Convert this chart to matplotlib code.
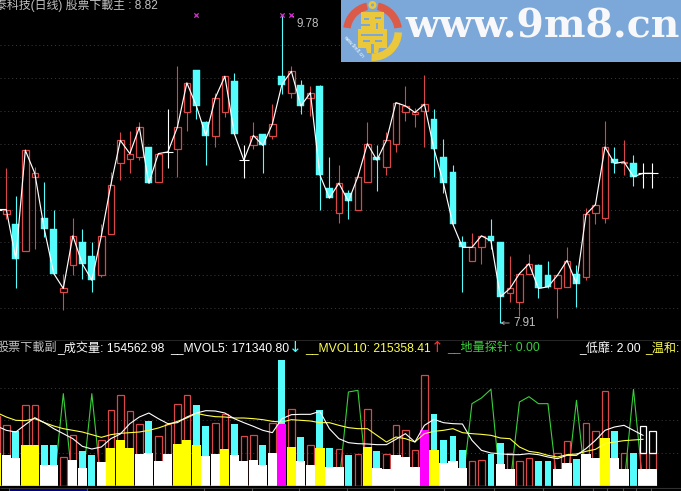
import numpy as np
import matplotlib
matplotlib.use('Agg')
import matplotlib.pyplot as plt
from matplotlib.patches import Rectangle, Wedge, Circle, Polygon

plt.rcParams['font.family'] = ['Liberation Sans', 'Noto Sans CJK SC', 'DejaVu Sans']

# prices
open_p = [8.60,8.57,8.51,8.35,8.80,8.55,8.48,8.10,8.26,8.40,8.32,8.20,8.45,8.88,8.91,8.92,8.98,8.77,8.95,8.97,
          9.19,9.45,9.13,9.05,9.19,9.38,8.90,8.99,9.06,9.05,9.41,9.31,9.36,9.28,9.35,8.73,8.58,8.70,8.60,8.77,
          8.92,8.86,9.00,9.19,9.18,9.20,9.15,8.92,8.83,8.40,8.29,8.37,8.44,8.40,8.09,8.04,8.21,8.26,8.20,8.12,
          8.13,8.21,8.19,8.58,8.55,8.91,8.88,8.88,8.82,8.82]
close_p = [8.60,8.60,8.30,8.96,8.82,8.48,8.21,8.12,8.44,8.27,8.17,8.44,8.75,9.02,8.94,9.10,8.76,8.94,8.95,9.10,
           9.37,9.23,9.05,9.28,9.41,9.06,8.90,9.05,8.99,9.12,9.36,9.44,9.23,9.31,8.81,8.67,8.76,8.65,8.80,9.00,
           8.90,9.02,9.25,9.23,9.19,9.24,8.97,8.76,8.51,8.37,8.37,8.44,8.41,8.07,8.12,8.21,8.27,8.12,8.13,8.20,
           8.29,8.15,8.57,8.63,8.98,8.88,8.89,8.80,8.82,8.82]
high_p = [8.60,8.85,8.68,8.97,8.86,8.77,8.60,8.21,8.55,8.48,8.40,8.51,8.83,9.07,9.08,9.13,8.98,8.94,9.21,9.47,
          9.37,9.45,9.14,9.31,9.41,9.43,8.99,9.13,9.06,9.24,9.78,9.47,9.39,9.35,9.36,8.92,8.87,8.72,8.83,9.13,
          8.99,9.07,9.25,9.35,9.22,9.42,9.21,9.03,8.87,8.44,8.46,8.44,8.54,8.40,8.32,8.21,8.33,8.27,8.29,8.20,
          8.37,8.26,8.61,8.63,9.14,8.98,9.02,8.93,8.88,8.88]
low_p = [8.60,8.54,8.12,8.35,8.36,8.43,8.21,7.99,8.20,8.18,8.10,8.19,8.45,8.78,8.82,8.90,8.76,8.77,8.85,8.80,
         9.08,9.15,8.87,8.98,9.16,9.06,8.79,8.97,8.82,9.03,9.30,9.28,9.18,9.17,8.60,8.67,8.52,8.54,8.60,8.77,
         8.71,8.81,8.95,9.14,9.10,8.98,8.80,8.70,8.51,8.10,8.29,8.27,8.36,7.91,8.04,7.95,8.21,8.06,8.12,7.94,
         8.13,8.01,8.17,8.51,8.52,8.82,8.81,8.74,8.73,8.73]

# volume in thousands
volume = [210,182,164,242,242,122,122,88,154,104,92,139,227,274,224,187,194,149,187,247,
          274,242,179,190,217,185,149,154,122,190,377,232,147,124,227,113,110,92,95,232,
          104,97,182,169,109,332,215,137,149,107,74,79,95,128,100,74,85,74,74,98,
          134,80,190,166,284,164,100,98,99,99]
level = [100,92,84,122,122,62,62,0,77,54,0,72,114,137,114,95,98,74,95,125,
         137,122,89,95,110,92,74,77,62,98,187,116,74,62,113,56,56,0,0,116,
         53,50,92,86,56,167,107,68,74,53,0,0,0,65,50,0,0,0,0,50,
         68,0,95,83,143,83,50,0,50,50]
level_kind = ['mild','low','low','mild','mild','low','low','','low','low','','low','mild','mild','mild','low','low','low','low','mild',
              'mild','mild','low','low','mild','low','low','low','low','low','top','mild','low','low','mild','low','low','','','mild',
              'low','low','low','low','low','top','mild','low','low','low','','','','low','low','','','','','low',
              'low','','low','low','mild','low','low','','low','low']
last_open_vol = [80, 65]

mvol5 = [180,167,162,184,205,190,172,157,142,119,111,117,142,156,187,207,219,202,187,190,
         207,219,226,225,219,202,190,179,167,160,202,214,215,215,224,172,142,130,127,126,
         124,124,140,157,132,182,200,190,187,186,137,107,99,97,94,94,97,94,87,82,
         92,92,112,137,167,177,182,167,152]
mvol10 = [220,207,197,196,202,190,180,172,167,162,154,146,154,158,160,162,167,174,184,194,
          204,218,212,208,207,204,204,202,199,194,192,199,197,195,190,190,182,175,172,172,
          152,132,147,142,132,157,164,167,172,160,157,155,152,144,142,117,104,100,92,87,
          94,96,104,110,127,132,136,138,140]
probe = [0,0,0,0,0,0,0,277,0,0,277,0,0,0,0,0,0,0,0,0,
         0,0,0,0,0,0,0,0,0,0,0,0,0,0,0,0,0,282,287,0,
         0,0,0,0,0,0,0,0,0,0,247,264,290,0,0,252,268,247,247,0,
         0,257,0,0,0,0,0,290,0]

peak_marks = [21, 30, 31]
grid_prices = [8.0,8.2,8.4,8.6,8.8,9.0,9.2,9.4,9.6]
vol_grid = [100, 197, 295]
time_ticks = [9,87,204,252,299,347,394,444,494,543,593,607,623,636,651]

W, H = 681, 491
RED = '#D84848'
CYAN = '#54FCFC'
YEL = '#FFFF00'
MAG = '#FF00FF'
GRAY = '#C0C0C0'
kind_colors = {'low': 'white', 'mild': YEL, 'top': MAG}

fig = plt.figure(figsize=(W / 100, H / 100), dpi=100, facecolor='black')

def panel(top, bottom):
    ax = fig.add_axes([0, 1 - bottom / H, 1, (bottom - top) / H], facecolor='none')
    ax.set_axis_off()
    ax.set_xlim(0.337, 72.0)
    return ax

days = np.arange(len(close_p))

# price panel
ax = panel(0, 335)
ax.set_ylim(7.837, 9.874)
ax.hlines(grid_prices, 0.337, 72, color='#3c3c3c', lw=0.7, linestyles=(0, (1, 3)), zorder=1)
for d, o, c, h, l in zip(days, open_p, close_p, high_p, low_p):
    if d == 0:
        ax.hlines(c, d - 0.5, d + 0.5, color='white', lw=0.8, zorder=3)
    elif o == c:
        ax.vlines(d, l, h, color='white', lw=0.8, zorder=3)
        ax.hlines(c, d - 0.55, d + 0.55, color='white', lw=0.8, zorder=3)
    elif c > o:
        ax.vlines(d, l, h, color=RED, lw=0.8, zorder=3)
        ax.add_patch(Rectangle((d - 0.34, o), 0.68, c - o, fc='black', ec=RED, lw=0.9, zorder=4))
    else:
        ax.vlines(d, l, h, color=CYAN, lw=0.8, zorder=3)
        ax.add_patch(Rectangle((d - 0.36, c), 0.72, o - c, fc=CYAN, ec=CYAN, lw=0.3, zorder=4))
ax.plot(days, close_p, color='white', lw=0.85, zorder=5)
ax.scatter(peak_marks, [9.78] * len(peak_marks), marker='x', s=10, lw=0.9, color='#D030D0', zorder=6)
ax.annotate('9.78', xy=(31, 9.78), xytext=(5, -9), textcoords='offset pixels', color=GRAY, fontsize=8.4, va='center',
            arrowprops=dict(arrowstyle='-', color=GRAY, lw=0.6, shrinkA=0, shrinkB=0))
ax.annotate('7.91', xy=(53, 7.91), xytext=(13, 0), textcoords='offset pixels', color=GRAY, fontsize=8.4, va='center',
            arrowprops=dict(arrowstyle='->', color=GRAY, lw=0.6, shrinkA=1, shrinkB=0, mutation_scale=5))

# volume panel
vx = panel(340, 486)
vx.set_ylim(0, 438)
vx.hlines(vol_grid, 0.337, 72, color='#3c3c3c', lw=0.7, linestyles=(0, (1, 3)), zorder=1)
vx.plot(days[:len(probe)], probe, color='#38D038', lw=0.8, zorder=2)
for d, o, c, v, lv, k in zip(days, open_p, close_p, volume, level, level_kind):
    if c >= o:
        vx.add_patch(Rectangle((d - 0.34, 0), 0.68, v, fc='none', ec=RED, lw=0.9, zorder=3))
    else:
        vx.bar(d, v, width=0.72, color=CYAN, zorder=3)
    if lv > 0:
        vx.bar(d, lv, width=0.97, color=kind_colors[k], zorder=4)
for d, v, extra in zip(days[-2:], volume[-2:], last_open_vol):
    vx.add_patch(Rectangle((d - 0.34, v), 0.68, extra, fc='none', ec='white', lw=0.9, zorder=5))
vx.plot(days[:len(mvol5)], mvol10, color='#FFFF40', lw=0.8, zorder=6)
vx.plot(days[:len(mvol5)], mvol5, color='white', lw=0.8, zorder=7)
vx.hlines(0, 0.337, days[-1] + 0.5, color='#E02020', lw=1, zorder=8)

# everything else is placed in image pixels
px = fig.add_axes([0, 0, 1, 1], facecolor='none')
px.set_axis_off()
px.set_xlim(0, W)
px.set_ylim(H, 0)

px.hlines(340, 0, W, color='#242424', lw=0.8)
px.hlines(488, 0, W, color='#303030', lw=0.8)
px.vlines(time_ticks, 488, 491, color='#505050', lw=0.8)
px.add_patch(Rectangle((10, 488.5), 77, 3, fc='#000080', ec='none'))

# header texts
px.text(-5, 5, '泰科技(日线) 股票下載主 : 8.82', color=GRAY, fontsize=8.6, va='center', clip_on=True)
header = [(-3, '股票下載副', GRAY), (57, '_成交量: 154562.98', 'white'), (170, '__MVOL5: 171340.80', 'white'),
          (289, '↓', CYAN), (305, '__MVOL10: 215358.41', '#FFFF50'), (431, '↑', '#F03030'),
          (447, '__地量探针: 0.00', '#38D038'), (579, '_低靡: 2.00', 'white'), (645, '_温和:', '#FFFF50')]
for x, s, col in header:
    if s in '↓↑':
        px.text(x, 348, s, color=col, fontsize=11, va='center', family='DejaVu Sans')
    else:
        px.text(x, 348, s, color=col, fontsize=8.7, va='center', clip_on=True)

# watermark
BLUE = '#7BA8D8'
LOGO_Y = '#EBC73C'
px.add_patch(Rectangle((341, 0), 340, 62, fc=BLUE, ec='none', zorder=20))
cx, cy = 372.5, 31.5
for t1, t2, col in [(188, 258, '#DC5A48'), (282, 352, '#DC5A48'), (2, 92, LOGO_Y)]:
    px.add_patch(Wedge((cx, cy), 29.5, t1, t2, width=7.5, fc=col, ec='none', zorder=21))
px.add_patch(Circle((cx, 5), 4, fc=LOGO_Y, ec='none', zorder=22))
px.add_patch(Circle((cx, 5), 1.5, fc=BLUE, ec='none', zorder=23))
px.add_patch(Polygon([(361, 12), (384, 12), (384, 29), (387, 29), (387, 48), (379, 48), (378, 53), (367, 53), (366, 48), (358, 48), (358, 29), (361, 29)],
                     fc=LOGO_Y, ec='none', zorder=22))
for x0, y0, w, h in [(364, 18, 5, 1.5), (375, 17, 6, 1.5), (361, 24, 9, 1.5), (376, 23, 1.5, 6), (361, 34, 22, 1.5), (363, 40, 7, 1.5), (375, 40, 7, 1.5), (371, 44, 3, 9)]:
    px.add_patch(Rectangle((x0, y0), w, h, fc=BLUE, ec='none', zorder=23))
px.text(353, 46, 'www.9m8.cn', color='white', fontsize=3.5, rotation=-48, ha='center', va='center', zorder=24)
px.text(405, 26, 'www.9m8.cn', color='#F8F8FA', fontsize=28.4, family='DejaVu Serif', weight='bold', va='center', zorder=24)

fig.savefig('out.png', dpi=100, facecolor='black')
